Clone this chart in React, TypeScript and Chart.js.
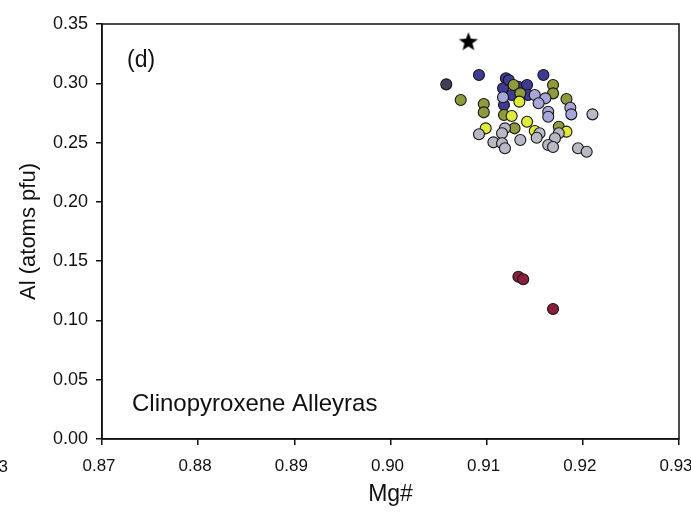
import React, { useEffect, useRef } from "react";
import { Chart, registerables } from "chart.js";

Chart.register(...registerables);

// Mg# (x) and Al atoms pfu (y) per group
const navyX = [0.9092, 0.9120, 0.9117, 0.9118, 0.9159, 0.9133, 0.9142, 0.9143, 0.9123, 0.9126];
const navyY = [0.3070, 0.3042, 0.2958, 0.2817, 0.3070, 0.2971, 0.2986, 0.2901, 0.3027, 0.2901];
const darkX = [0.9058];
const darkY = [0.2991];
const oliveX = [0.9073, 0.9097, 0.9097, 0.9128, 0.9169, 0.9169, 0.9183, 0.9135, 0.9118, 0.9129, 0.9175];
const oliveY = [0.2859, 0.2825, 0.2755, 0.2986, 0.2986, 0.2915, 0.2867, 0.2915, 0.2733, 0.2620, 0.2634];
const yellowX = [0.9134, 0.9126, 0.9142, 0.9099, 0.9150, 0.9183];
const yellowY = [0.2845, 0.2724, 0.2676, 0.2620, 0.2598, 0.2592];
const lavenderX = [0.9150, 0.9161, 0.9154, 0.9164, 0.9164, 0.9187, 0.9188, 0.9117];
const lavenderY = [0.2901, 0.2873, 0.2831, 0.2760, 0.2718, 0.2794, 0.2738, 0.2882];
const greyX = [0.9210, 0.9092, 0.9119, 0.9116, 0.9155, 0.9152, 0.9135, 0.9107, 0.9116, 0.9119, 0.9175, 0.9171, 0.9164, 0.9195, 0.9204, 0.9169];
const greyY = [0.2738, 0.2570, 0.2620, 0.2578, 0.2578, 0.2541, 0.2522, 0.2502, 0.2494, 0.2452, 0.2578, 0.2536, 0.2480, 0.2452, 0.2423, 0.2463];
const redX = [0.9133, 0.9138, 0.9169];
const redY = [0.1369, 0.1347, 0.1096];
const starX = [0.9081];
const starY = [0.3351];

const xTicks = [0.87, 0.88, 0.89, 0.90, 0.91, 0.92, 0.93];
const yTicks = [0.0, 0.05, 0.10, 0.15, 0.20, 0.25, 0.30, 0.35];

const FONT = "'Liberation Sans', Arial, sans-serif";

const pts = (xs: number[], ys: number[]) => xs.map((x, i) => ({ x, y: ys[i] }));

function makeStar(): HTMLCanvasElement {
  const c = document.createElement("canvas");
  c.width = 22;
  c.height = 22;
  const ctx = c.getContext("2d")!;
  ctx.beginPath();
  const cx = 11, cy = 11.5, R = 10, r = 4.2;
  for (let i = 0; i < 10; i++) {
    const a = -Math.PI / 2 + (i * Math.PI) / 5;
    const rad = i % 2 === 0 ? R : r;
    const px = cx + rad * Math.cos(a);
    const py = cy + rad * Math.sin(a);
    if (i === 0) ctx.moveTo(px, py);
    else ctx.lineTo(px, py);
  }
  ctx.closePath();
  ctx.fillStyle = "#000";
  ctx.fill();
  return c;
}

const framePlugin = {
  id: "frameAndText",
  afterDraw(chart: any) {
    const { ctx, chartArea } = chart;
    ctx.save();
    ctx.strokeStyle = "#111";
    ctx.lineWidth = 1.5;
    ctx.strokeRect(chartArea.left, chartArea.top, chartArea.right - chartArea.left, chartArea.bottom - chartArea.top);
    ctx.fillStyle = "#111";
    ctx.textBaseline = "alphabetic";
    ctx.textAlign = "left";
    ctx.font = `23px ${FONT}`;
    ctx.fillText("(d)", 127, 67);
    ctx.font = `24px ${FONT}`;
    ctx.fillText("Clinopyroxene Alleyras", 132, 411);
    ctx.font = `17px ${FONT}`;
    ctx.textAlign = "right";
    ctx.fillText("3", 8, 472);
    ctx.restore();
  },
};

export default function App() {
  const ref = useRef<HTMLCanvasElement>(null);
  useEffect(() => {
    if (!ref.current) return;
    const base = { pointRadius: 5.5, pointBorderColor: "#151515", pointBorderWidth: 1.1, showLine: false };
    const chart = new Chart(ref.current, {
      type: "scatter",
      data: {
        datasets: [
          { label: "grey", data: pts(greyX, greyY), pointBackgroundColor: "#b9b9c6", ...base },
          { label: "lavender", data: pts(lavenderX, lavenderY), pointBackgroundColor: "#a6a6d8", ...base },
          { label: "yellow", data: pts(yellowX, yellowY), pointBackgroundColor: "#dfea3a", ...base },
          { label: "olive", data: pts(oliveX, oliveY), pointBackgroundColor: "#8e9a3c", ...base },
          { label: "navy", data: pts(navyX, navyY), pointBackgroundColor: "#3d3b92", ...base },
          { label: "dark", data: pts(darkX, darkY), pointBackgroundColor: "#3f3f58", ...base },
          { label: "red", data: pts(redX, redY), pointBackgroundColor: "#8a1f3c", ...base },
          { label: "star", data: pts(starX, starY), pointStyle: makeStar() as any, pointRadius: 10, showLine: false },
        ],
      },
      options: {
        animation: false,
        responsive: false,
        layout: { padding: { top: 24, right: 12, left: 0, bottom: 0 } },
        plugins: { legend: { display: false }, tooltip: { enabled: false } },
        scales: {
          x: {
            type: "linear",
            min: 0.87,
            max: 0.93,
            afterBuildTicks: (s: any) => { s.ticks = xTicks.map((v) => ({ value: v })); },
            afterFit: (s: any) => { s.height = 74; s.paddingLeft = 0; s.paddingRight = 0; },
            ticks: {
              color: "#111",
              font: { family: FONT, size: 17 },
              padding: 11,
              labelOffset: -3,
              maxRotation: 0,
              callback: (v: any) => Number(v).toFixed(2),
            },
            grid: { drawOnChartArea: false, drawTicks: true, tickLength: 6, color: "#111", lineWidth: 1.5 },
            border: { display: true, color: "#111", width: 1.5 },
            title: { display: true, text: "Mg#", color: "#111", font: { family: FONT, size: 23 }, padding: { top: 0, bottom: 5 } },
          },
          y: {
            type: "linear",
            min: 0,
            max: 0.35,
            afterBuildTicks: (s: any) => { s.ticks = yTicks.map((v) => ({ value: v })); },
            afterFit: (s: any) => { s.width = 102; s.paddingTop = 0; s.paddingBottom = 0; },
            ticks: {
              color: "#111",
              font: { family: FONT, size: 18 },
              padding: 8,
              callback: (v: any) => Number(v).toFixed(2),
            },
            grid: { drawOnChartArea: false, drawTicks: true, tickLength: 6, color: "#111", lineWidth: 1.5 },
            border: { display: true, color: "#111", width: 1.5 },
            title: { display: true, text: "Al (atoms pfu)", color: "#111", font: { family: FONT, size: 22 }, padding: { top: 16, bottom: 0 } },
          },
        },
      },
      plugins: [framePlugin],
    });
    return () => chart.destroy();
  }, []);
  return (
    <div style={{ position: "fixed", left: 0, top: 0, width: 691, height: 513, background: "#fff" }}>
      <canvas ref={ref} width={691} height={513} style={{ display: "block" }} />
    </div>
  );
}
